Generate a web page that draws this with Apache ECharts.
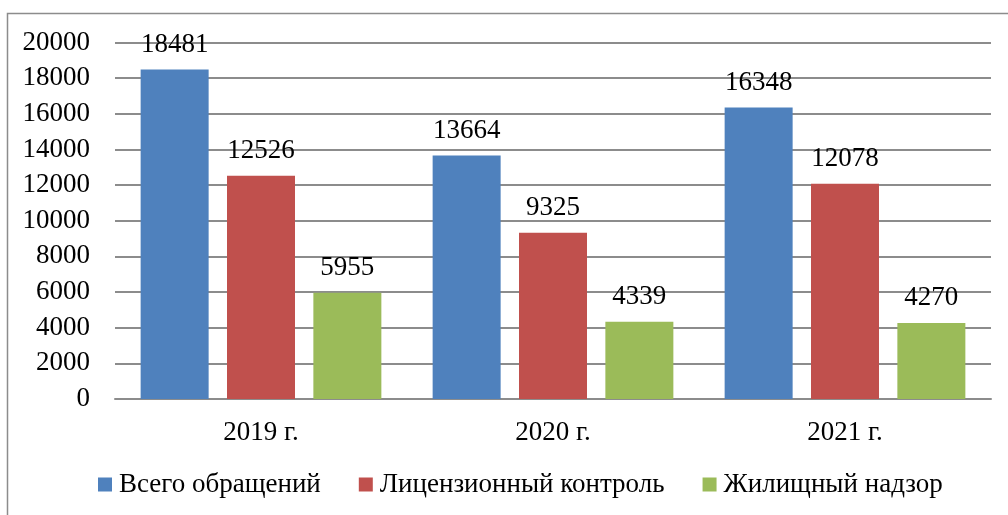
<!DOCTYPE html>
<html>
<head>
<meta charset="utf-8">
<script src="https://cdn.jsdelivr.net/npm/echarts@6/dist/echarts.min.js"></script>
<style>
  html, body { margin: 0; padding: 0; background: #fff; }
  #chart { width: 1008px; height: 515px; }
</style>
</head>
<body>
<div id="chart"></div>
<script>
// данные диаграммы
var years = ['2019 г.', '2020 г.', '2021 г.'];
var seriesNames = ['Всего обращений', 'Лицензионный контроль', 'Жилищный надзор'];
var totalData = [18481, 13664, 16348];
var licenseData = [12526, 9325, 12078];
var housingData = [5955, 4339, 4270];
var colors = ['#4F81BD', '#C0504D', '#9BBB59'];

var chart = echarts.init(document.getElementById('chart'));
var font = '"Liberation Serif", "Times New Roman", serif';
var fs = 27;

function makeSeries(name, data, color) {
	return {
		name: name,
		type: 'bar',
		data: data,
		barWidth: 68,
		barGap: '27%',
		itemStyle: { color: color },
		label: {
			show: true,
			position: 'top',
			distance: 11,
			color: '#000',
			fontFamily: font,
			fontSize: fs
		}
	};
}

var option = {
	animation: false,
	textStyle: { fontFamily: font },
	grid: {
		left: 115,
		right: 17,
		top: 42.5,
		bottom: 116
	},
	graphic: [{
		type: 'polyline',
		shape: { points: [[7.5, 520], [7.5, 13.5], [1010, 13.5]] },
		style: { stroke: '#8c8c8c', lineWidth: 1.5, fill: null }
	}],
	legend: {
		bottom: 12,
		left: 93,
		itemWidth: 14,
		itemHeight: 14,
		itemGap: 38,
		icon: 'rect',
		textStyle: { fontFamily: font, fontSize: fs, color: '#000', padding: [0, 0, 0, 2] },
		data: seriesNames
	},
	xAxis: {
		type: 'category',
		data: years,
		axisLine: { lineStyle: { color: '#8c8c8c', width: 2 } },
		axisTick: { show: false },
		axisLabel: { color: '#000', fontFamily: font, fontSize: fs, margin: 20 }
	},
	yAxis: {
		type: 'value',
		min: 0,
		max: 20000,
		interval: 2000,
		axisLine: { show: false },
		axisTick: { show: false },
		axisLabel: { color: '#000', fontFamily: font, fontSize: fs, margin: 25, formatter: function (v) { return String(v); } },
		splitLine: { lineStyle: { color: '#8c8c8c', width: 2 } }
	},
	series: [
		makeSeries(seriesNames[0], totalData, colors[0]),
		makeSeries(seriesNames[1], licenseData, colors[1]),
		makeSeries(seriesNames[2], housingData, colors[2])
	]
};

chart.setOption(option);
</script>
</body>
</html>
